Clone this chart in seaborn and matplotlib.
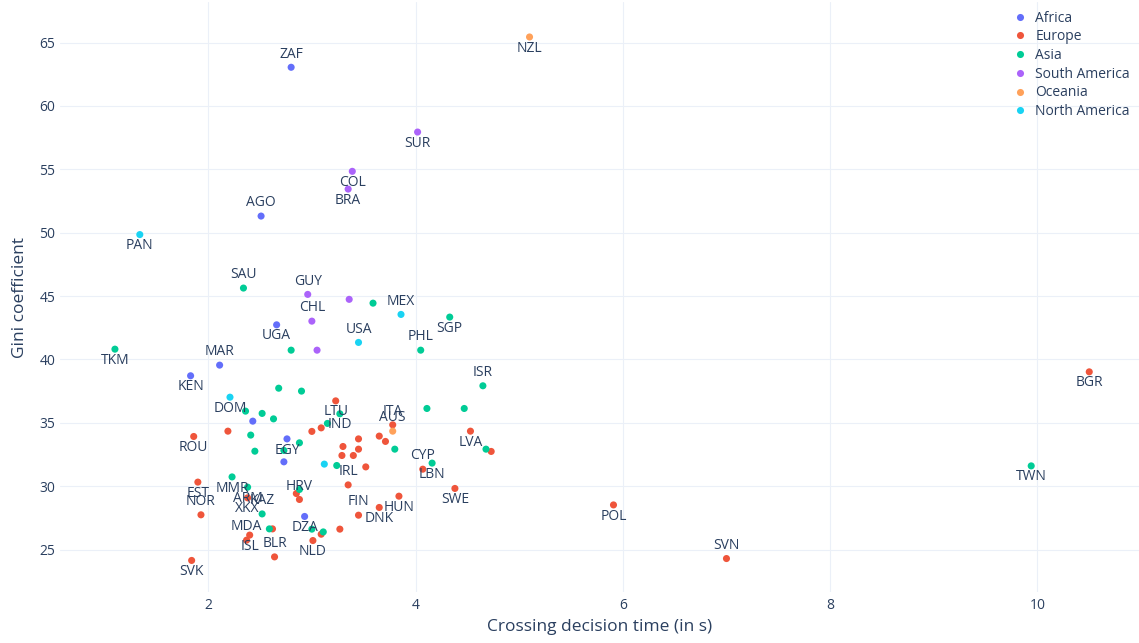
import pandas as pd
import seaborn as sns
import matplotlib.pyplot as plt

# data, one row per country ('' = unlabeled point)
codes = ['ZAF', 'AGO', 'UGA', 'MAR', 'KEN', '', 'EGY', '', 'DZA',
         'BGR', 'POL', 'SVN', 'ROU', '', 'EST', 'NOR', 'SVK', 'XKX', 'ISL', 'MDA', '', 'BLR', 'HRV', '',
         'NLD', '', '', 'FIN', 'DNK', 'HUN', 'SWE', 'CYP', 'IRL', '', '', '', '', '', '', '', '',
         'LTU', '', '', 'ITA', 'LVA', '',
         'TWN', 'TKM', 'SAU', '', 'SGP', 'PHL', '', 'ISR', '', '', '', '', '', '', '', 'IND', '', '',
         '', '', '', '', '', 'LBN', '', 'MMR', 'ARM', 'KAZ', '', '', '', '',
         'SUR', 'COL', 'BRA', 'GUY', '', 'CHL', '',
         'NZL', 'AUS',
         'PAN', 'MEX', 'USA', 'DOM', '']
decision_time = [2.80, 2.51, 2.66, 2.11, 1.83, 2.43, 2.76, 2.73, 2.93,
                 10.50, 5.91, 7.00, 1.86, 2.19, 1.90, 1.93, 1.84, 2.38, 2.40, 2.37, 2.62, 2.64, 2.88, 2.85,
                 3.01, 3.09, 3.27, 3.45, 3.65, 3.84, 4.38, 4.07, 3.35, 3.52, 3.30, 3.45, 3.45, 3.29, 3.40, 3.65, 3.71,
                 3.23, 3.00, 3.09, 3.78, 4.53, 4.73,
                 9.94, 1.10, 2.34, 3.59, 4.33, 4.05, 2.80, 4.65, 2.68, 2.90, 4.11, 4.47, 2.36, 2.52, 2.63, 3.27, 3.15, 2.41,
                 2.88, 2.73, 2.45, 3.80, 4.68, 4.16, 3.24, 2.23, 2.38, 2.52, 2.88, 2.59, 3.00, 3.11,
                 4.02, 3.39, 3.35, 2.96, 3.36, 3.00, 3.05,
                 5.10, 3.78,
                 1.34, 3.86, 3.45, 2.21, 3.12]
gini = [63.05, 51.31, 42.73, 39.55, 38.71, 35.13, 33.73, 31.92, 27.61,
        39.02, 28.52, 24.29, 33.92, 34.34, 30.32, 27.74, 24.14, 29.08, 26.14, 25.74, 26.63, 24.42, 28.95, 29.42,
        25.71, 26.21, 26.61, 27.71, 28.32, 29.21, 29.82, 31.34, 30.10, 31.52, 33.13, 33.73, 32.92, 32.42, 32.42, 33.95, 33.53,
        36.73, 34.32, 34.60, 34.84, 34.34, 32.74,
        31.60, 40.81, 45.63, 44.44, 43.34, 40.73, 40.73, 37.92, 37.73, 37.50, 36.13, 36.13, 35.92, 35.74, 35.31, 35.71, 34.95, 34.03,
        33.42, 32.82, 32.76, 32.92, 32.92, 31.82, 31.63, 30.73, 29.92, 27.81, 29.74, 26.63, 26.61, 26.39,
        57.94, 54.84, 53.44, 45.13, 44.74, 43.02, 40.73,
        65.44, 34.34,
        49.85, 43.55, 41.34, 37.02, 31.74]
continent = (['Africa'] * 9 + ['Europe'] * 38 + ['Asia'] * 32 + ['South America'] * 7
             + ['Oceania'] * 2 + ['North America'] * 5)

# labels drawn above the point (the rest go below)
label_above = ['ZAF', 'AGO', 'MAR', 'SVN', 'NOR', 'MDA', 'BLR', 'HRV', 'FIN', 'CYP', 'IRL', 'ITA',
               'SAU', 'PHL', 'ISR', 'KAZ', 'GUY', 'CHL', 'AUS', 'MEX', 'USA']

continents = ['Africa', 'Europe', 'Asia', 'South America', 'Oceania', 'North America']
colors = ['#636EFA', '#EF553B', '#00CC96', '#AB63FA', '#FFA15A', '#19D3F3']

df = pd.DataFrame({'code': codes, 'time': decision_time, 'gini': gini, 'continent': continent})

sns.set_style('white')
plt.rcParams['font.family'] = ['Open Sans', 'DejaVu Sans']
txt = '#2a3f5f'

fig = plt.figure(figsize=(11.39, 6.43), dpi=100)
ax = fig.add_axes([60 / 1139, 51 / 643, 1 - 60 / 1139, 590 / 643])

sns.scatterplot(data=df, x='time', y='gini', hue='continent', hue_order=continents,
                palette=dict(zip(continents, colors)), s=26, linewidth=0, ax=ax, zorder=3)

for _, r in df[df['code'] != ''].iterrows():
    up = r['code'] in label_above
    ax.annotate(r['code'], (r['time'], r['gini']), xytext=(0, 9.5 if up else -8),
                textcoords='offset points', ha='center', va='center',
                fontsize=10, color=txt, zorder=4)

ax.set_xlim(0.57, 10.98)
ax.set_ylim(21.65, 68.2)
ax.set_xticks([2, 4, 6, 8, 10])
ax.set_yticks(range(25, 70, 5))
ax.grid(True, color='#EBF0F8', linewidth=0.8)
ax.set_axisbelow(True)
for s in ax.spines.values():
    s.set_visible(False)
ax.tick_params(length=0, labelsize=10, labelcolor=txt)
ax.tick_params(axis='x', pad=4)
ax.tick_params(axis='y', pad=3.5)

ax.set_xlabel('Crossing decision time (in s)', fontsize=12.5, color=txt)
ax.set_ylabel('Gini coefficient', fontsize=12.5, color=txt)
ax.xaxis.set_label_coords(0.5, -27 / 590)
ax.yaxis.set_label_coords(-32 / 1079, 0.5)

ax.legend(loc='upper left', bbox_to_anchor=(1013 / 1139, 1 - 10.5 / 643), bbox_transform=fig.transFigure,
          frameon=False, fontsize=10, labelcolor=txt, borderpad=0, borderaxespad=0,
          handlelength=1.0, handletextpad=0.6, labelspacing=0.27, markerscale=1.0)

plt.savefig('out.png', dpi=100)
